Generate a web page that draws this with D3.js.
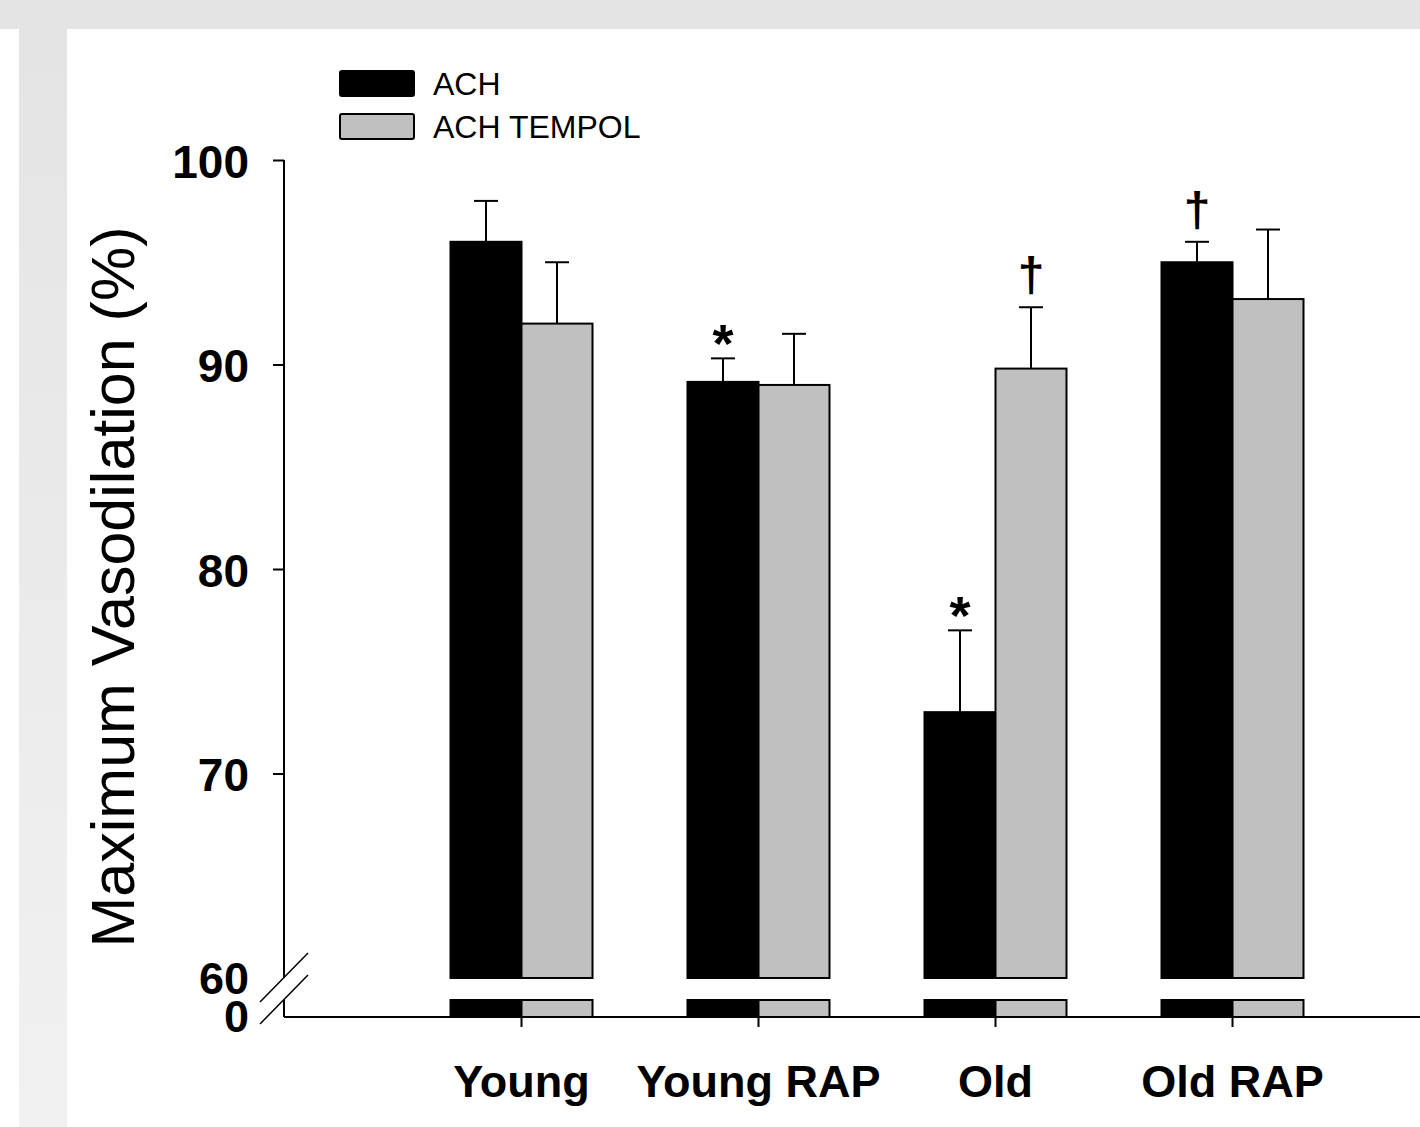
<!DOCTYPE html>
<html>
<head>
<meta charset="utf-8">
<script src="https://cdn.jsdelivr.net/npm/d3@7"></script>
<style>
  body { margin: 0; background: #fff; }
  svg text { font-family: "Liberation Sans", Arial, sans-serif; fill: #000; }
</style>
</head>
<body>
<div id="chart"></div>
<script>
// Data
const groups = ["Young", "Young RAP", "Old", "Old RAP"];
const series = ["ACH", "ACH TEMPOL"];
const achMean = [96.0, 89.15, 73.0, 95.0];
const achErr = [2.0, 1.15, 4.0, 1.0];
const tempolMean = [92.0, 89.0, 89.8, 93.2];
const tempolErr = [3.0, 2.5, 3.0, 3.4];
const achSig = ["", "*", "*", "\u2020"];
const tempolSig = ["", "", "\u2020", ""];
const yTicks = [70, 80, 90, 100];
const yLabels = ["60", "0"];

const W = 1420, H = 1127;
const colors = ["#000000", "#c0c0c0"];

const svg = d3.select("#chart").append("svg")
    .attr("width", W)
    .attr("height", H);

// page background bands
svg.append("rect").attr("x", 0).attr("y", 0).attr("width", W).attr("height", 29).attr("fill", "#e4e4e4");
const bandGrad = svg.append("defs").append("linearGradient")
    .attr("id", "band").attr("x1", 0).attr("x2", 0).attr("y1", 0).attr("y2", 1);
bandGrad.append("stop").attr("offset", "0%").attr("stop-color", "#e4e4e4");
bandGrad.append("stop").attr("offset", "100%").attr("stop-color", "#f1f1f1");
svg.append("rect").attr("x", 19).attr("y", 29).attr("width", 48).attr("height", H - 29).attr("fill", "url(#band)");

// scales
const axisX = 284, axisY = 1017;
const breakTop = 978, breakBottom = 1000;
const y = d3.scaleLinear().domain([60, 100]).range([breakTop, 160]);
const yLow = d3.scaleLinear().domain([0, 60]).range([axisY, breakBottom]);
const x = d3.scaleBand().domain(groups).range([403, 403 + 237 * groups.length]).padding(0);
const barW = 71;

const rows = groups.map((g, i) => ({
  group: g,
  vals: [
    {s: 0, mean: achMean[i], err: achErr[i], sig: achSig[i]},
    {s: 1, mean: tempolMean[i], err: tempolErr[i], sig: tempolSig[i]}
  ]
}));

const g = svg.append("g");

const grp = g.selectAll(".grp").data(rows).enter().append("g")
    .attr("transform", d => "translate(" + (x(d.group) + x.bandwidth() / 2) + ",0)");

const bar = grp.selectAll(".bar").data(d => d.vals).enter().append("g")
    .attr("transform", d => "translate(" + (d.s === 0 ? -barW : 0) + ",0)");

// upper part of the bars
bar.append("rect")
    .attr("x", 0)
    .attr("width", barW)
    .attr("y", d => y(d.mean))
    .attr("height", d => y(60) - y(d.mean))
    .attr("fill", d => colors[d.s])
    .attr("stroke", "#000")
    .attr("stroke-width", 2);

// lower stub below the break
bar.append("rect")
    .attr("x", 0)
    .attr("width", barW)
    .attr("y", yLow(60))
    .attr("height", yLow(0) - yLow(60))
    .attr("fill", d => colors[d.s])
    .attr("stroke", "#000")
    .attr("stroke-width", 2);

// error bars
bar.append("line")
    .attr("x1", barW / 2).attr("x2", barW / 2)
    .attr("y1", d => y(d.mean)).attr("y2", d => y(d.mean + d.err))
    .attr("stroke", "#000").attr("stroke-width", 2);
bar.append("line")
    .attr("x1", barW / 2 - 12).attr("x2", barW / 2 + 12)
    .attr("y1", d => y(d.mean + d.err)).attr("y2", d => y(d.mean + d.err))
    .attr("stroke", "#000").attr("stroke-width", 2);

// significance marks
bar.filter(d => d.sig !== "").append("text")
    .attr("x", barW / 2)
    .attr("y", d => y(d.mean + d.err) + (d.sig === "*" ? 4 : -16))
    .attr("text-anchor", "middle")
    .style("font-size", d => d.sig === "*" ? "54px" : "48px")
    .style("font-weight", "bold")
    .text(d => d.sig);

// y axis (upper segment)
const yAxis = g.append("g")
    .attr("transform", "translate(" + axisX + ",0)")
    .call(d3.axisLeft(y).tickValues(yTicks).tickSize(11).tickSizeOuter(0).tickFormat(d3.format("d")));
yAxis.select(".domain").attr("d", "M0," + y(100) + "V" + breakTop);
yAxis.selectAll(".domain, .tick line").attr("stroke", "#000").attr("stroke-width", 2);
yAxis.selectAll(".tick text")
    .attr("x", -35).attr("dy", "0.38em")
    .style("font-size", "46px").style("font-weight", "bold").style("fill", "#000");

// labels at the break: 60 and 0
g.selectAll(".brk").data(yLabels).enter().append("text")
    .attr("x", axisX - 35)
    .attr("y", (d, i) => (i === 0 ? y(60) + 16 : yLow(0) + 15))
    .attr("text-anchor", "end")
    .style("font-size", "45px").style("font-weight", "bold")
    .text(d => d);

// lower y axis segment
g.append("line")
    .attr("x1", axisX).attr("x2", axisX).attr("y1", breakBottom).attr("y2", axisY)
    .attr("stroke", "#000").attr("stroke-width", 2);

// break slashes
[breakTop, breakBottom].forEach(function(b) {
  g.append("line")
      .attr("x1", axisX - 24).attr("y1", b + 24)
      .attr("x2", axisX + 24).attr("y2", b - 25)
      .attr("stroke", "#000").attr("stroke-width", 1.5);
});

// x axis
const xAxis = g.append("g")
    .attr("transform", "translate(0," + axisY + ")")
    .call(d3.axisBottom(x).tickSize(10).tickSizeOuter(0));
xAxis.select(".domain").attr("d", "M" + axisX + ",0H" + W);
xAxis.selectAll(".domain, .tick line").attr("stroke", "#000").attr("stroke-width", 2);
xAxis.selectAll(".tick text")
    .attr("y", 80).attr("dy", 0)
    .style("font-size", "45px").style("font-weight", "bold").style("fill", "#000");

// y axis title
svg.append("text")
    .attr("transform", "translate(134,587) rotate(-90)")
    .attr("text-anchor", "middle")
    .style("font-size", "61px")
    .text("Maximum Vasodilation (%)");

// legend
const legend = svg.append("g").attr("transform", "translate(340,70)");
const li = legend.selectAll(".li").data(series).enter().append("g")
    .attr("transform", (d, i) => "translate(0," + (i * 43) + ")");
li.append("rect")
    .attr("x", 0).attr("y", 1)
    .attr("width", 74).attr("height", 25)
    .attr("rx", 2)
    .attr("fill", (d, i) => colors[i])
    .attr("stroke", "#000").attr("stroke-width", 2);
li.append("text")
    .attr("x", 93).attr("y", 25)
    .style("font-size", "32px")
    .text(d => d);
</script>
</body>
</html>
